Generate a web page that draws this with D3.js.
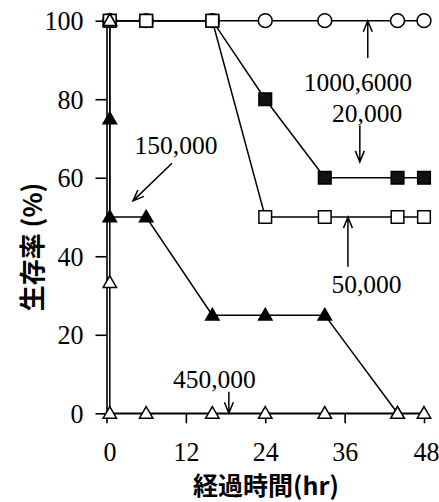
<!DOCTYPE html>
<html>
<head>
<meta charset="utf-8">
<script src="https://cdn.jsdelivr.net/npm/d3@7"></script>
<style>
  html, body { margin: 0; padding: 0; background: #fff; }
  svg { display: block; }
</style>
</head>
<body>
<svg id="chart" width="439" height="502"></svg>
<script>
// ---- data ----
const xTicks = [0, 12, 24, 36, 48];
const yTicks = [0, 20, 40, 60, 80, 100];
const hours = [0.5, 6, 16, 24, 33, 44, 48];
const s1000_6000 = [100, 100, 100, 100, 100, 100, 100];
const s20000 = [100, 100, 100, 80, 60, 60, 60];
const s50000 = [100, 100, 100, 50, 50, 50, 50];
const hours150000 = [0.5, 0.5, 0.5, 6, 16, 24, 33, 44];
const s150000 = [100, 75, 50, 50, 25, 25, 25, 0];
const hours450000 = [0.5, 0.5, 0.5, 6, 16, 24, 33, 44, 48];
const s450000 = [100, 33.3, 0, 0, 0, 0, 0, 0, 0];
const xLabel = "経過時間(hr)";
const yLabel = "生存率 (%)";
// annotations: [text, hour, value]
const labels = [
  ["1000,6000", 38, 82],
  ["20,000", 39.4, 74.3],
  ["150,000", 10.5, 66],
  ["50,000", 39.3, 30.7],
  ["450,000", 16.3, 6.5]
];
// arrows: [fromHour, fromValue, toHour, toValue]
const arrows = [
  [39.5, 90.5, 39.5, 100],
  [38.3, 73.3, 38.3, 64.0],
  [9.9, 63.7, 4.0, 54.1],
  [36.5, 37.3, 36.5, 50],
  [18.5, 5.5, 18.5, 0]
];

const svg = d3.select("#chart");
const x = d3.scaleLinear().domain([0, 48]).range([106.5, 424]);
const y = d3.scaleLinear().domain([0, 100]).range([413.3, 20.7]);
const serif = "'Liberation Serif', 'Times New Roman', serif";
const cjk = "'Noto Sans CJK JP', 'Noto Sans', sans-serif";
const SY = 1.06;

// axes
const gx = svg.append("g").attr("transform", `translate(0,${y(0)})`)
  .call(d3.axisBottom(x).tickValues(xTicks).tickSize(10).tickSizeOuter(0).tickPadding(17).tickFormat(d3.format("d")));
const gy = svg.append("g").attr("transform", `translate(${x(0)},0)`)
  .call(d3.axisLeft(y).tickValues(yTicks).tickSize(11).tickSizeOuter(0).tickPadding(12).tickFormat(d3.format("d")));
[gx, gy].forEach(g => {
  g.selectAll("path.domain").attr("stroke", "#000").attr("stroke-width", 1.6);
  g.selectAll("line").attr("stroke", "#000").attr("stroke-width", 1.6);
  g.selectAll("text").attr("fill", "#000").attr("font-family", serif).attr("font-size", 26)
    .attr("transform", `scale(1,${SY})`);
  g.attr("font-family", null).attr("font-size", null);
});
gx.selectAll(".tick text").attr("dx", d => d === 0 ? 3 : (d === 48 ? 2 : 0));

// lines
const line = d3.line().x(d => x(d[0])).y(d => y(d[1]));
const series = [
  { h: hours, v: s1000_6000, m: "circle", fill: "#fff" },
  { h: hours, v: s20000, m: "square", fill: "#111" },
  { h: hours, v: s50000, m: "square", fill: "#fff" },
  { h: hours150000, v: s150000, m: "triangle", fill: "#000" },
  { h: hours450000, v: s450000, m: "triangle", fill: "#fff" }
];
series.forEach(s => {
  svg.append("path").datum(s.h.map((h, i) => [h, s.v[i]]))
    .attr("d", line).attr("fill", "none").attr("stroke", "#000").attr("stroke-width", 1.5);
});
const symType = { circle: d3.symbolCircle, square: d3.symbolSquare, triangle: d3.symbolTriangle };
const symSize = { circle: 150, square: 160, triangle: 78 };
series.forEach(s => {
  const pts = s.h.map((h, i) => [h, s.v[i]]);
  svg.append("g").selectAll("path").data(pts).join("path")
    .attr("transform", d => `translate(${x(d[0])},${y(d[1]) + (s.m === "triangle" ? 1 : 0)})`)
    .attr("d", d3.symbol().type(symType[s.m]).size(symSize[s.m]))
    .attr("fill", s.fill).attr("stroke", "#000").attr("stroke-width", 1.5);
});

// annotation text
labels.forEach(([t, h, v]) => {
  svg.append("text")
    .attr("x", x(h)).attr("y", y(v))
    .attr("text-anchor", "middle").attr("font-family", serif).attr("font-size", 25.5)
    .attr("fill", "#000").text(t);
});

// arrows
arrows.forEach(([h1, v1, h2, v2]) => {
  const x1 = x(h1), y1 = y(v1), x2 = x(h2), y2 = y(v2);
  const ang = Math.atan2(y2 - y1, x2 - x1);
  const L = 12, a = 0.38;
  const p1 = [x2 - L * Math.cos(ang - a), y2 - L * Math.sin(ang - a)];
  const p2 = [x2 - L * Math.cos(ang + a), y2 - L * Math.sin(ang + a)];
  svg.append("path")
    .attr("d", `M${x1},${y1}L${x2},${y2}M${p1[0]},${p1[1]}L${x2},${y2}L${p2[0]},${p2[1]}`)
    .attr("fill", "none").attr("stroke", "#000").attr("stroke-width", 1.5);
});

// axis titles
svg.append("text")
  .attr("x", 266).attr("y", 495)
  .attr("text-anchor", "middle").attr("font-family", cjk).attr("font-weight", "bold")
  .attr("font-size", 25).attr("fill", "#000").text(xLabel);
svg.append("text")
  .attr("transform", "translate(42,247) rotate(-90)")
  .attr("text-anchor", "middle").attr("font-family", cjk).attr("font-weight", "bold")
  .attr("font-size", 26).attr("fill", "#000").text(yLabel);
</script>
</body>
</html>
